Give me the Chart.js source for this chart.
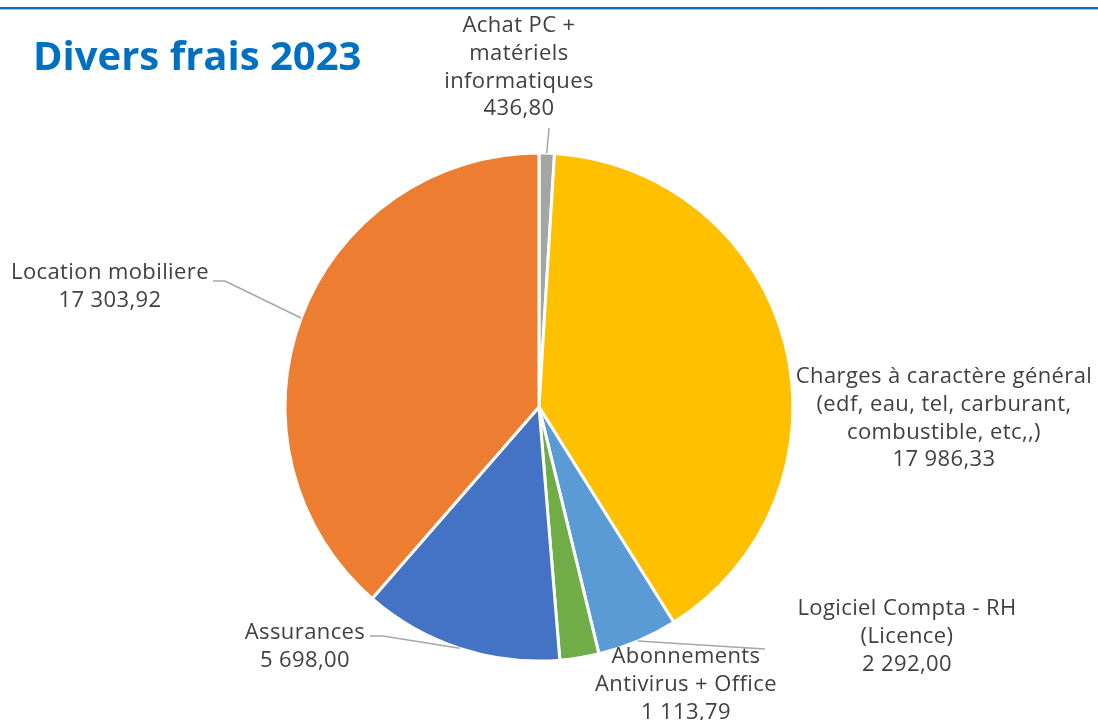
<!DOCTYPE html>
<html>
<head>
<meta charset="utf-8">
<script src="https://cdn.jsdelivr.net/npm/chart.js@4"></script>
<style>
  html, body { margin: 0; padding: 0; background: #fff; }
  #wrap { width: 1098px; height: 720px; position: relative; }
</style>
</head>
<body>
<div id="wrap"><canvas id="chart-frais" width="1098" height="720"></canvas></div>
<script>
// donnees
var categories = [
    ['Achat PC +', 'matériels', 'informatiques'],
    ['Charges à caractère général', '(edf, eau, tel, carburant,', 'combustible, etc,,)'],
    ['Logiciel Compta - RH', '(Licence)'],
    ['Abonnements', 'Antivirus + Office'],
    ['Assurances'],
    ['Location mobiliere']
];
var montants = [436.80, 17986.33, 2292.00, 1113.79, 5698.00, 17303.92];
var couleurs = ['#A5A5A5', '#FFC000', '#5B9BD5', '#70AD47', '#4472C4', '#ED7D31'];
var titre = 'Divers frais 2023';

// position des etiquettes (centre x, ligne de base de la 1ere ligne) + fin du trait
var etiquettes = [
    {x: 519, y: 32, trait: [549, 128]},
    {x: 944, y: 383, trait: null},
    {x: 907, y: 615, trait: [765, 649]},
    {x: 686, y: 663, trait: null},
    {x: 305, y: 639, trait: [383, 636], coude: [370, 636]},
    {x: 110, y: 279, trait: [225, 281], coude: [213, 281]}
];

var formatFr = (v) => {
    var parts = v.toFixed(2).split('.');
    var ent = parts[0].replace(/\B(?=(\d{3})+(?!\d))/g, ' ');
    return ent + ',' + parts[1];
}

var canv = document.getElementById('chart-frais');
var context = canv.getContext('2d');

var pluginEtiquettes = {
    id: 'etiquettes',
    beforeDraw: (chart) => {
        var ctx = chart.ctx;
        ctx.save();
        ctx.fillStyle = '#fff';
        ctx.fillRect(0, 0, chart.width, chart.height);
        ctx.strokeStyle = '#0070C0';
        ctx.lineWidth = 2;
        ctx.beginPath(); ctx.moveTo(0, 8); ctx.lineTo(chart.width, 8); ctx.stroke();
        ctx.strokeStyle = '#9DC3E6';
        ctx.lineWidth = 1;
        ctx.beginPath(); ctx.moveTo(0, 9.5); ctx.lineTo(chart.width, 9.5); ctx.stroke();
        ctx.restore();
    },
    afterDraw: (chart) => {
        var ctx = chart.ctx;
        var arcs = chart.getDatasetMeta(0).data;
        ctx.save();
        // titre
        ctx.fillStyle = '#0070C0';
        ctx.font = 'bold 40px "Open Sans"';
        ctx.textAlign = 'left';
        ctx.textBaseline = 'alphabetic';
        ctx.fillText(titre, 33, 70);
        // traits de rappel
        ctx.strokeStyle = '#A6A6A6';
        ctx.lineWidth = 1.5;
        for (var i = 0; i < arcs.length; i++) {
            var e = etiquettes[i];
            if (!e.trait) continue;
            var p = arcs[i].getProps(['x', 'y', 'startAngle', 'endAngle', 'outerRadius'], true);
            var a = (p.startAngle + p.endAngle) / 2;
            ctx.beginPath();
            ctx.moveTo(p.x + Math.cos(a) * p.outerRadius, p.y + Math.sin(a) * p.outerRadius);
            ctx.lineTo(e.trait[0], e.trait[1]);
            if (e.coude) ctx.lineTo(e.coude[0], e.coude[1]);
            ctx.stroke();
        }
        // textes
        ctx.fillStyle = '#404040';
        ctx.font = '22px "Open Sans"';
        ctx.letterSpacing = '0.4px';
        ctx.textAlign = 'center';
        for (var j = 0; j < categories.length; j++) {
            var lignes = categories[j].concat([formatFr(montants[j])]);
            for (var k = 0; k < lignes.length; k++) {
                ctx.fillText(lignes[k], etiquettes[j].x, etiquettes[j].y + k * 27.8);
            }
        }
        ctx.restore();
    }
}

var data = {
    labels: categories.map((c) => c.join(' ')),
    datasets: [{
        label: titre,
        data: montants,
        backgroundColor: couleurs,
        borderColor: '#ffffff',
        borderWidth: 3
    }]
}

var config = {
    type: 'pie',
    data: data,
    options: {
        responsive: false,
        animation: false,
        radius: 254,
        layout: {padding: {left: 285, right: 305, top: 153, bottom: 59}},
        plugins: {
            legend: {display: false},
            tooltip: {enabled: false}
        }
    },
    plugins: [pluginEtiquettes]
}

var chart1 = new Chart(context, config);
</script>
</body>
</html>
